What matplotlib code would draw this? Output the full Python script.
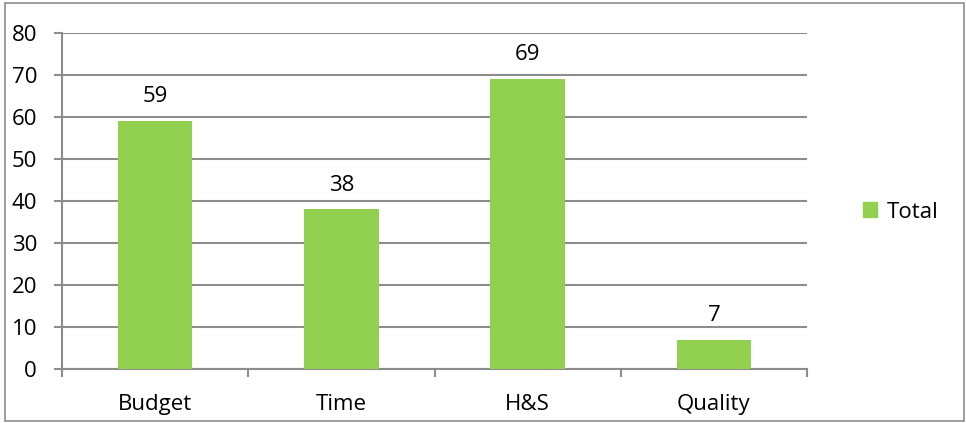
import matplotlib
matplotlib.use("Agg")
import matplotlib.pyplot as plt
from matplotlib.patches import Rectangle
from matplotlib.ticker import FixedLocator, NullFormatter

categories = ["Budget", "Time", "H&S", "Quality"]
totals = [59, 38, 69, 7]
series_name = "Total"
y_ticks = [0, 10, 20, 30, 40, 50, 60, 70, 80]

plt.rcParams["font.family"] = ["Open Sans", "DejaVu Sans"]

W, H, DPI = 966, 423, 100
fig = plt.figure(figsize=(W / DPI, H / DPI), dpi=DPI)
fig.patch.set_facecolor("white")

# outer chart border
fig.patches.append(Rectangle((5 / W, 1 - 421 / H), (964 - 5) / W, (421 - 3) / H,
                             transform=fig.transFigure, fill=False,
                             edgecolor="#8c8c8c", linewidth=1.2))

left, right, top, bottom = 62, 807, 33, 369
ax = fig.add_axes([left / W, 1 - bottom / H, (right - left) / W, (bottom - top) / H])

grid_color = "#8c8c8c"
green = "#92D050"
fs = 16
x = list(range(len(categories)))
bars = ax.bar(x, totals, width=0.4, color=green, zorder=3)

for xi, v in zip(x, totals):
    ax.annotate(str(v), (xi, v), xytext=(0, 10), textcoords="offset points",
                ha="center", va="bottom", fontsize=fs, color="black")

ax.set_xlim(-0.5, len(categories) - 0.5)
ax.set_ylim(0, 80)
ax.set_yticks(y_ticks)
ax.set_yticklabels([str(t) for t in y_ticks])
ax.yaxis.grid(True, color=grid_color, linewidth=1.5, zorder=0)
ax.set_axisbelow(True)

ax.set_xticks(x)
ax.set_xticklabels(categories)
ax.xaxis.set_minor_locator(FixedLocator([i - 0.5 for i in range(len(categories) + 1)]))
ax.xaxis.set_minor_formatter(NullFormatter())
ax.tick_params(axis="x", which="major", length=0, pad=18, labelsize=fs)
ax.tick_params(axis="x", which="minor", length=6, width=1.5, color=grid_color, direction="out")
ax.tick_params(axis="y", length=6, width=1.5, color=grid_color, pad=12, labelsize=fs)

for s in ["top", "right"]:
    ax.spines[s].set_visible(False)
for s in ["left", "bottom"]:
    ax.spines[s].set_color(grid_color)
    ax.spines[s].set_linewidth(1.5)

handle = Rectangle((0, 0), 1, 1, color=green)
fig.legend([handle], [series_name], loc="center left",
           bbox_to_anchor=(843 / W, 1 - 212 / H), frameon=False, fontsize=fs,
           handlelength=0.65, handleheight=0.65, handletextpad=0.4)

fig.savefig("out.png", dpi=DPI, facecolor="white")
